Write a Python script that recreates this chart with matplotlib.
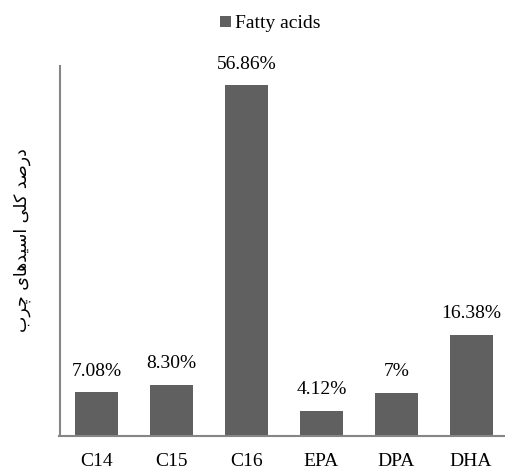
import matplotlib.pyplot as plt

categories = ["C14", "C15", "C16", "EPA", "DPA", "DHA"]
values = [7.08, 8.30, 56.86, 4.12, 7.00, 16.38]
value_labels = ["7.08%", "8.30%", "56.86%", "4.12%", "7%", "16.38%"]
legend_label = "Fatty acids"

# "درصد کلی اسیدهای چرب" in presentation forms, logical order (no shaping engine in matplotlib)
ylabel_logical = ("\uFEA9\uFEAD\uFEBB\uFEAA" + " "
                  + "\uFB90\uFEE0\uFBFD" + " "
                  + "\uFE8D\uFEB3\uFBFF\uFEAA\uFEEB\uFE8E\uFBFC" + " "
                  + "\uFB7C\uFEAE\uFE8F")
ylabel_visual = ylabel_logical[::-1]

plt.rcParams['font.family'] = ['Liberation Serif', 'DejaVu Sans']

fig = plt.figure(figsize=(5.05, 4.70), dpi=100)
ax = fig.add_axes([59.5 / 505, 1 - 436 / 470, 449 / 505, 370 / 470])

bars = ax.bar(categories, values, width=0.575, color='#606060', label=legend_label)
ax.bar_label(bars, labels=value_labels, padding=9, fontsize=14)

ax.set_xlim(-0.5, 5.5)
ax.set_ylim(0, 60)
ax.set_yticks([])
ax.tick_params(axis='x', length=0, pad=12, labelsize=14)
for s in ['top', 'right']:
    ax.spines[s].set_visible(False)
for s in ['left', 'bottom']:
    ax.spines[s].set_color('#868686')
    ax.spines[s].set_linewidth(1.5)

fig.text(22 / 505, 1 - 240 / 470, ylabel_visual, rotation=90, ha='center', va='center',
         fontsize=12.5, family='DejaVu Sans')

fig.legend(loc='center', bbox_to_anchor=(270 / 505, 1 - 24 / 470), frameon=False,
           fontsize=14, handlelength=0.55, handleheight=0.55, handletextpad=0.2)

fig.savefig("out.png", dpi=100)
